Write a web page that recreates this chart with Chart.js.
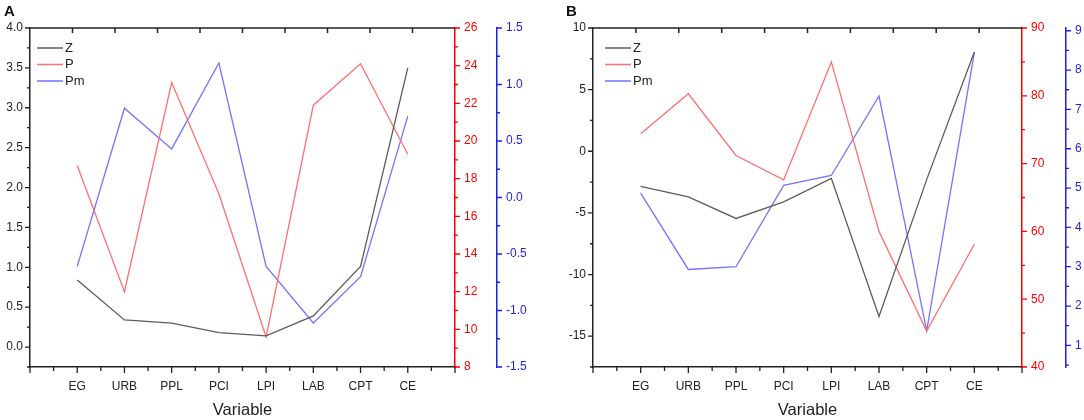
<!DOCTYPE html>
<html>
<head>
<meta charset="utf-8">
<script src="https://cdn.jsdelivr.net/npm/chart.js@4.4.1/dist/chart.umd.min.js"></script>
<style>
  body { margin: 0; background: #fff; }
  .panel { position: absolute; top: 0; width: 542px; height: 420px; }
  .tag { position: absolute; top: 2px; font: bold 15px "Liberation Sans", Arial, sans-serif; color: #111; }
</style>
</head>
<body>
<div class="panel" style="left:0"><canvas id="chartA"></canvas></div>
<div class="panel" style="left:542px"><canvas id="chartB"></canvas></div>
<div class="tag" style="left:4px">A</div>
<div class="tag" style="left:566px">B</div>
<script>
const variables = ['EG', 'URB', 'PPL', 'PCI', 'LPI', 'LAB', 'CPT', 'CE'];
const xTicks = [0, 1, 2, 3, 4, 5, 6, 7, 8, 9];

// panel A
const zA = [0.84, 0.34, 0.30, 0.18, 0.14, 0.39, 1.01, 3.50];
const pA = [18.7, 12.0, 23.1, 17.2, 9.6, 21.9, 24.1, 19.3];
const pmA = [-0.61, 0.79, 0.43, 1.19, -0.61, -1.11, -0.70, 0.72];
const zTicksA = [0, 0.5, 1.0, 1.5, 2.0, 2.5, 3.0, 3.5, 4.0];
const pTicksA = [8, 10, 12, 14, 16, 18, 20, 22, 24, 26];
const pmTicksA = [-1.5, -1.0, -0.5, 0, 0.5, 1.0, 1.5];

// panel B
const zB = [-2.85, -3.7, -5.45, -4.1, -2.2, -13.4, -2.3, 8.05];
const pB = [74.4, 80.3, 71.2, 67.6, 85.0, 60.0, 45.3, 58.1];
const pmB = [4.87, 2.93, 3.0, 5.07, 5.32, 7.34, 1.37, 8.45];
const zTicksB = [-15, -10, -5, 0, 5, 10];
const pTicksB = [40, 50, 60, 70, 80, 90];
const pmTicksB = [1, 2, 3, 4, 5, 6, 7, 8, 9];

Chart.defaults.font.family = '"Liberation Sans", Arial, sans-serif';
Chart.defaults.animation = false;

const BLACK = '#222', RED = '#ff0000', BLUE = '#1f1fe6';

// tick marks, top frame line and the inset legend
const frameMarks = {
  id: 'frameMarks',
  afterDraw(chart, args, opts) {
    const ctx = chart.ctx, a = chart.chartArea;
    ctx.save();
    ctx.lineWidth = 1.5;
    ctx.strokeStyle = BLACK;
    ctx.beginPath();
    ctx.moveTo(a.left, a.top); ctx.lineTo(a.right, a.top);
    for (let i = 1; i < 10; i++) {
      const x = a.left + (a.right - a.left) * i / 10;
      ctx.moveTo(x, a.top); ctx.lineTo(x, a.top + 5);
    }
    ctx.stroke();

    Object.values(chart.scales).forEach(s => {
      const majors = s.ticks.map(t => t.value);
      const half = (majors[1] - majors[0]) / 2;
      const minors = [];
      for (let v = majors[0] - half; v >= s.min - 1e-9; v -= half * 2) minors.push(v);
      majors.forEach(v => { if (v + half <= s.max + 1e-9) minors.push(v + half); });
      ctx.strokeStyle = s.options.border.color;
      ctx.lineWidth = 1.3;
      ctx.beginPath();
      const mark = (v, len) => {
        const p = s.getPixelForValue(v);
        if (s.axis === 'x') { ctx.moveTo(p, s.top); ctx.lineTo(p, s.top + len); }
        else if (s.position === 'left') { ctx.moveTo(s.right, p); ctx.lineTo(s.right - len, p); }
        else { ctx.moveTo(s.left, p); ctx.lineTo(s.left + len, p); }
      };
      majors.forEach(v => mark(v, s.axis === 'x' ? 6 : 5));
      minors.forEach(v => mark(v, s.axis === 'x' ? 4 : 3));
      ctx.stroke();
    });

    ctx.font = '13px "Liberation Sans", Arial, sans-serif';
    ctx.textBaseline = 'middle';
    chart.data.datasets.forEach((d, i) => {
      const y = a.top + 20 + i * 16.5;
      const x = a.left + opts.legendX;
      ctx.strokeStyle = d.borderColor;
      ctx.lineWidth = 1.5;
      ctx.beginPath(); ctx.moveTo(x, y); ctx.lineTo(x + 26, y); ctx.stroke();
      ctx.fillStyle = BLACK;
      ctx.fillText(d.label, x + 28, y);
    });
    ctx.restore();
  }
};

function yAxis(pos, color, min, max, values, decimals, width, pad, extra) {
  return Object.assign({
    type: 'linear', position: pos, min: min, max: max,
    grid: { display: false, drawTicks: false },
    border: { display: true, color: color, width: 1.5 },
    ticks: {
      color: color, padding: pad, font: { size: 12 },
      callback: v => v.toFixed(decimals)
    },
    afterBuildTicks: s => { s.ticks = values.map(v => ({ value: v })); },
    afterFit: s => { s.width = width; }
  }, extra || {});
}

function makeChart(id, z, p, pm, ax, legendX) {
  return new Chart(document.getElementById(id), {
    type: 'line',
    data: {
      datasets: [
        { label: 'Z', data: z.map((v, i) => ({ x: i + 1, y: v })), borderColor: '#5c5c5c', yAxisID: 'y' },
        { label: 'P', data: p.map((v, i) => ({ x: i + 1, y: v })), borderColor: '#ff7070', yAxisID: 'y1' },
        { label: 'Pm', data: pm.map((v, i) => ({ x: i + 1, y: v })), borderColor: '#7373ff', yAxisID: 'y2' }
      ]
    },
    options: {
      responsive: true,
      maintainAspectRatio: false,
      elements: { point: { radius: 0 }, line: { borderWidth: 1.3, tension: 0 } },
      layout: { padding: { top: 28, left: 0, right: 0, bottom: 0 } },
      plugins: { legend: { display: false }, tooltip: { enabled: false }, frameMarks: { legendX: legendX } },
      scales: {
        x: {
          type: 'linear', min: 0, max: 9,
          grid: { display: false, drawTicks: false },
          border: { display: true, color: BLACK, width: 1.5 },
          ticks: {
            color: BLACK, padding: 12, font: { size: 12 }, autoSkip: false, maxRotation: 0,
            callback: v => variables[v - 1] || ''
          },
          afterBuildTicks: s => { s.ticks = xTicks.map(v => ({ value: v })); },
          afterFit: s => { s.height = 53; },
          title: { display: true, text: 'Variable', color: '#222', font: { size: 16.5, lineHeight: 1.2 }, padding: 0 }
        },
        y: yAxis('left', BLACK, ax.y[0], ax.y[1], ax.y[2], ax.y[3], ax.y[4], 7),
        y1: yAxis('right', RED, ax.y1[0], ax.y1[1], ax.y1[2], 0, ax.y1[3], 9),
        y2: yAxis('right', BLUE, ax.y2[0], ax.y2[1], ax.y2[2], ax.y2[3], ax.y2[4], 9)
      }
    },
    plugins: [frameMarks]
  });
}

makeChart('chartA', zA, pA, pmA, {
  y: [-0.25, 4.0, zTicksA, 1, 30],
  y1: [8, 26, pTicksA, 42],
  y2: [-1.5, 1.5, pmTicksA, 1, 45]
}, 7);

makeChart('chartB', zB, pB, pmB, {
  y: [-17.5, 10, zTicksB, 0, 51],
  y1: [40, 90, pTicksB, 44],
  y2: [0.45, 9.07, pmTicksB, 0, 18]
}, 12);
</script>
</body>
</html>
